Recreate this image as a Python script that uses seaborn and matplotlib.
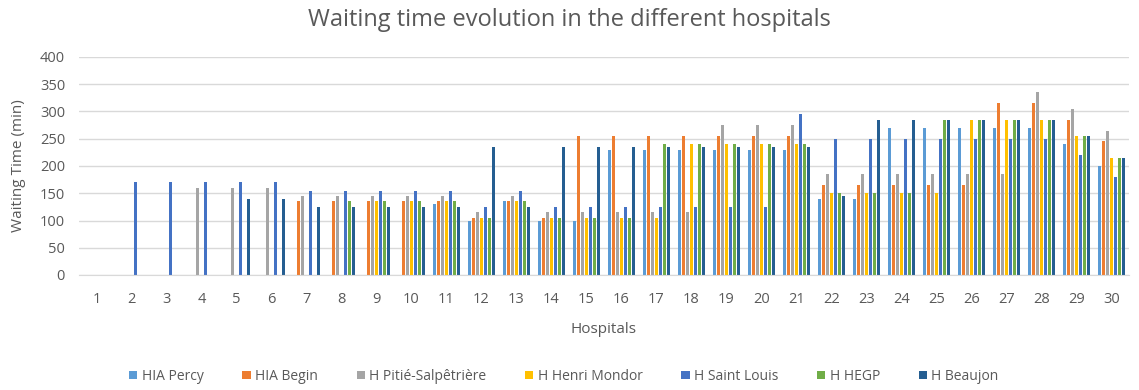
import numpy as np
import pandas as pd
import matplotlib
matplotlib.use("Agg")
import matplotlib.pyplot as plt
import seaborn as sns

hospitals = [str(i) for i in range(1, 31)]
series_names = ["HIA Percy", "HIA Begin", "H Pitié-Salpêtrière", "H Henri Mondor",
                "H Saint Louis", "H HEGP", "H Beaujon"]
colors = ["#5B9BD5", "#ED7D31", "#A5A5A5", "#FFC000", "#4472C4", "#70AD47", "#255E91"]

percy = [0, 0, 0, 0, 0, 0, 0, 0, 0, 0, 130, 100, 135, 100, 100,
         230, 230, 230, 230, 230, 230, 140, 140, 270, 270, 270, 270, 270, 240, 200]
begin = [0, 0, 0, 0, 0, 0, 135, 135, 135, 135, 135, 105, 135, 105, 255,
         255, 255, 255, 255, 255, 255, 165, 165, 165, 165, 165, 315, 315, 285, 245]
pitie = [0, 0, 0, 160, 160, 160, 145, 145, 145, 145, 145, 115, 145, 115, 115,
         115, 115, 115, 275, 275, 275, 185, 185, 185, 185, 185, 185, 335, 305, 265]
mondor = [0, 0, 0, 0, 0, 0, 0, 0, 135, 135, 135, 105, 135, 105, 105,
          105, 105, 240, 240, 240, 240, 150, 150, 150, 150, 285, 285, 285, 255, 215]
saint_louis = [0, 170, 170, 170, 170, 170, 155, 155, 155, 155, 155, 125, 155, 125, 125,
               125, 125, 125, 125, 125, 295, 250, 250, 250, 250, 250, 250, 250, 220, 180]
hegp = [0, 0, 0, 0, 0, 0, 0, 135, 135, 135, 135, 105, 135, 105, 105,
        105, 240, 240, 240, 240, 240, 150, 150, 150, 285, 285, 285, 285, 255, 215]
beaujon = [0, 0, 0, 0, 140, 140, 125, 125, 125, 125, 125, 235, 125, 235, 235,
           235, 235, 235, 235, 235, 235, 145, 285, 285, 285, 285, 285, 285, 255, 215]

all_series = [percy, begin, pitie, mondor, saint_louis, hegp, beaujon]
rows = []
for name, vals in zip(series_names, all_series):
    for h, v in zip(hospitals, vals):
        rows.append({"Hospital": h, "Series": name, "Time": v})
df = pd.DataFrame(rows)

sns.set_style("white")
plt.rcParams["font.family"] = ["Open Sans", "DejaVu Sans"]

fig = plt.figure(figsize=(11.39, 3.90), dpi=100)
ax = fig.add_axes([79 / 1139, 115 / 390, 1050 / 1139, 218 / 390])

sns.barplot(data=df, x="Hospital", y="Time", hue="Series", order=hospitals,
            hue_order=series_names, palette=colors, width=0.8, gap=0.25,
            errorbar=None, linewidth=0, saturation=1, ax=ax)

text_col = "#595959"
ax.set_ylim(0, 400)
ax.set_xlim(-0.5, 29.5)
ax.set_yticks(np.arange(0, 401, 50))
ax.yaxis.grid(True, color="#D9D9D9", linewidth=1)
ax.set_axisbelow(True)
for side in ["top", "right", "left"]:
    ax.spines[side].set_visible(False)
ax.spines["bottom"].set_color("#D9D9D9")
ax.tick_params(axis="both", length=0, labelsize=10.5, colors=text_col)
ax.tick_params(axis="x", pad=12)
ax.tick_params(axis="y", pad=10)
ax.set_xlabel("Hospitals", fontsize=11, color=text_col, labelpad=11)
ax.set_ylabel("Waiting Time (min)", fontsize=11, color=text_col, labelpad=10)

fig.suptitle("Waiting time evolution in the different hospitals", fontsize=17,
             color=text_col, y=0.98)

handles, labels = ax.get_legend_handles_labels()
ax.get_legend().remove()
fig.legend(handles, labels, loc="center", bbox_to_anchor=(0.495, 0.035), ncol=7,
           frameon=False, fontsize=10, handlelength=0.6, handleheight=0.6,
           handletextpad=0.3, columnspacing=2.8, labelcolor=text_col)

fig.savefig("out.png", dpi=100)
